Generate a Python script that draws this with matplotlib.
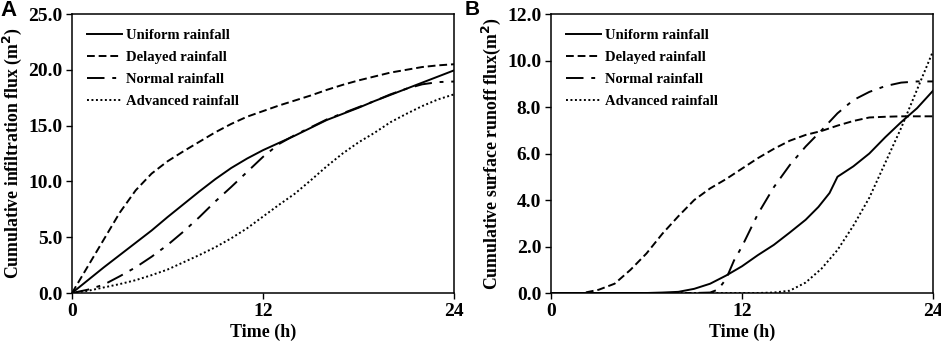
import matplotlib
matplotlib.use('Agg')
import matplotlib.pyplot as plt

# panel A: cumulative infiltration flux (hourly)
hours = list(range(25))
infil_uniform = [0, 1.15, 2.3, 3.4, 4.5, 5.6, 6.8, 7.95, 9.1, 10.2, 11.2, 12.05, 12.8,
                 13.45, 14.1, 14.8, 15.5, 16.05, 16.6, 17.2, 17.75, 18.3, 18.85, 19.4, 19.95]
infil_delayed = [0, 2.4, 4.8, 7.2, 9.2, 10.7, 11.8, 12.7, 13.55, 14.4, 15.15, 15.8, 16.3,
                 16.8, 17.25, 17.7, 18.2, 18.65, 19.05, 19.4, 19.75, 20.0, 20.25, 20.4, 20.5]
infil_normal = [0, 0.3, 0.75, 1.5, 2.3, 3.25, 4.3, 5.5, 6.8, 8.2, 9.5, 10.85, 12.2,
                13.35, 14.15, 14.85, 15.55, 16.1, 16.65, 17.2, 17.8, 18.3, 18.7, 18.9, 18.95]
infil_advanced = [0, 0.2, 0.5, 0.8, 1.15, 1.6, 2.1, 2.75, 3.4, 4.1, 4.9, 5.8, 6.85,
                  7.9, 8.9, 10.1, 11.35, 12.5, 13.5, 14.35, 15.3, 16.05, 16.75, 17.35, 17.8]

# panel B: cumulative surface runoff flux
runoff_uniform_t = [0, 6, 7, 8, 9, 10, 11, 12, 13, 14, 15, 16, 16.8, 17.5, 18, 19, 20, 21, 22, 23, 24]
runoff_uniform = [0, 0, 0.02, 0.05, 0.18, 0.4, 0.75, 1.15, 1.63, 2.07, 2.6, 3.15, 3.7, 4.3, 5.0,
                  5.45, 6.0, 6.7, 7.35, 7.95, 8.7]
runoff_delayed_t = [0, 2, 3, 4, 5, 6, 7, 8, 9, 10, 11, 12, 13, 14, 15, 16, 17, 18, 19, 20, 21, 22, 23, 24]
runoff_delayed = [0, 0, 0.14, 0.4, 1.0, 1.7, 2.55, 3.3, 4.0, 4.5, 4.9, 5.35, 5.8, 6.2, 6.55, 6.8,
                  6.97, 7.2, 7.4, 7.55, 7.58, 7.6, 7.6, 7.6]
runoff_normal_t = [0, 9, 10, 10.5, 11, 11.5, 12, 12.5, 13, 14, 15, 16, 17, 18, 19, 20, 21, 22, 23, 24]
runoff_normal = [0, 0, 0.02, 0.15, 0.6, 1.4, 2.0, 2.7, 3.4, 4.55, 5.5, 6.3, 7.0, 7.73, 8.3, 8.65,
                 8.9, 9.05, 9.1, 9.1]
runoff_advanced_t = [0, 13, 14, 15, 16, 17, 18, 19, 20, 21, 22, 23, 24]
runoff_advanced = [0, 0, 0.02, 0.1, 0.45, 1.05, 1.85, 2.9, 4.1, 5.6, 7.1, 8.75, 10.4]

labels = ['Uniform rainfall', 'Delayed rainfall', 'Normal rainfall', 'Advanced rainfall']
styles = ['-', (0, (4, 2)), (0, (9, 4, 2, 4)), (0, (1, 1.3))]

plt.rcParams['font.family'] = 'Liberation Serif'
plt.rcParams['font.weight'] = 'bold'

fig = plt.figure(figsize=(9.41, 3.47), dpi=100)
ax1 = fig.add_axes([0.0765, 0.1556, 0.406, 0.804])
ax2 = fig.add_axes([0.5855, 0.1556, 0.406, 0.804])

a_series = [(hours, infil_uniform), (hours, infil_delayed), (hours, infil_normal), (hours, infil_advanced)]
b_series = [(runoff_uniform_t, runoff_uniform), (runoff_delayed_t, runoff_delayed),
            (runoff_normal_t, runoff_normal), (runoff_advanced_t, runoff_advanced)]

for ax, series, ymax, ystep, ylabel in [
        (ax1, a_series, 25, 5, 'Cumulative infiltration flux (m$^\\mathbf{2}$)'),
        (ax2, b_series, 12, 2, 'Cumulative surface runoff flux(m$^\\mathbf{2}$)')]:
    for (t, v), lab, ls in zip(series, labels, styles):
        ax.plot(t, v, color='black', linestyle=ls, linewidth=1.4, label=lab)
    ax.set_xlim(0, 24)
    ax.set_ylim(0, ymax)
    ax.set_xticks([0, 12, 24])
    ax.set_yticks([i * ystep for i in range(int(ymax / ystep) + 1)])
    ax.set_yticklabels(['%.1f' % (i * ystep) for i in range(int(ymax / ystep) + 1)])
    ax.tick_params(direction='out', length=4, labelsize=14, width=1, pad=3)
    for lbl in ax.get_xticklabels() + ax.get_yticklabels():
        lbl.set_fontweight('bold')
    ax.set_xlabel('Time (h)', fontsize=13, fontweight='bold', labelpad=3)
    ax.set_ylabel(ylabel, fontsize=12.8, fontweight='bold', labelpad=3)
    for s in ax.spines.values():
        s.set_linewidth(1.1)
    ax.legend(loc='upper left', frameon=False, handlelength=2.4,
              handletextpad=0.3, labelspacing=0.6, borderaxespad=0.6,
              borderpad=0.4, prop={'weight': 'bold', 'size': 10.5})

fig.text(0.0, 1.0, 'A', fontsize=16, fontweight='bold', family='Liberation Sans', va='top')
fig.text(0.494, 1.0, 'B', fontsize=15, fontweight='bold', family='Liberation Sans', va='top')

fig.savefig('out.png', dpi=100)
